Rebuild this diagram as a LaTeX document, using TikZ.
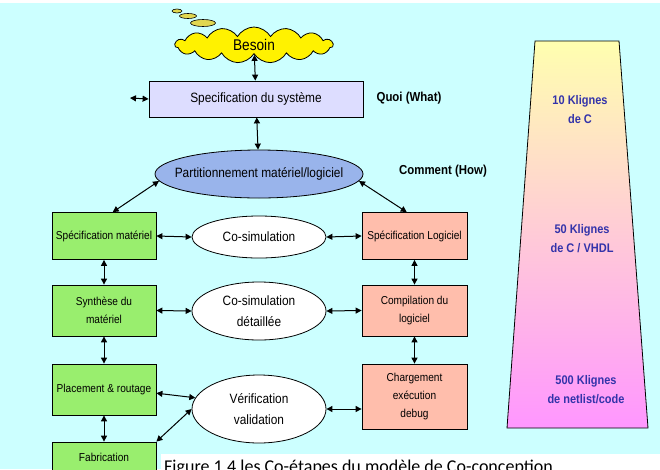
\documentclass[tikz,border=0pt]{standalone}
\usepackage{fontspec}
\usepackage{xcolor}
\usepackage{tikz}
\usetikzlibrary{positioning, arrows.meta, shapes.geometric, shapes.symbols, calc}
\newfontfamily\narrow{Liberation Sans}[FakeStretch=0.88]
\newfontfamily\capfont{Carlito}
\definecolor{bgcyan}{RGB}{204,255,255}
\definecolor{syslav}{RGB}{221,221,255}
\definecolor{partblue}{RGB}{153,180,235}
\definecolor{hwgreen}{RGB}{153,238,110}
\definecolor{swpink}{RGB}{255,190,172}
\definecolor{traptop}{RGB}{255,255,175}
\definecolor{trapbot}{RGB}{255,150,255}
\definecolor{kltext}{RGB}{51,51,170}
\definecolor{puffcol}{RGB}{225,215,80}
\newcommand{\zw}[1]{\makebox[0pt]{#1}}

\begin{document}
\begin{tikzpicture}[
    x=1pt, y=-1pt,
    every node/.style={font=\narrow},
    hwbox/.style={draw, line width=0.8pt, fill=hwgreen, minimum width=104pt, align=center,
        font=\narrow\fontsize{11.5}{18}\selectfont},
    swbox/.style={hwbox, fill=swpink, minimum width=105pt},
    simell/.style={draw, line width=0.8pt, ellipse, fill=white, inner sep=0pt, minimum width=134pt,
        align=center, font=\narrow\fontsize{13.5}{21}\selectfont},
    arr/.style={{Triangle[length=6pt,width=6pt]}-{Triangle[length=6pt,width=6pt]}, line width=1pt},
    note/.style={font=\narrow\bfseries\fontsize{13}{15}\selectfont},
    kl/.style={align=center, text=kltext, font=\narrow\bfseries\fontsize{12.5}{19}\selectfont}
]
\useasboundingbox (0,0) rectangle (660,469);
\clip (0,0) rectangle (660,469);
\fill[white] (0,0) rectangle (660,469);
\fill[bgcyan] (0,3) rectangle (660,469);

% lines of code per level
\shade[top color=traptop, bottom color=trapbot] (535,41) -- (619,41) -- (648,428) -- (507,428) -- cycle;
\draw[line width=0.8pt] (535,41) -- (619,41) -- (648,428) -- (507,428) -- cycle;
\node[kl] (kl10) at (580,110) {10 Klignes\\de C};
\node[kl] (kl50) at (582,238.5) {50 Klignes\\de C / VHDL};
\node[kl] (kl500) at (586,390) {500 Klignes\\de netlist/code};

% need
\fill[puffcol, draw=black, line width=0.6pt] (177,11) ellipse [x radius=5, y radius=2];
\fill[puffcol, draw=black, line width=0.6pt] (188,16) ellipse [x radius=8.5, y radius=2.5];
\fill[puffcol, draw=black, line width=0.6pt] (203,23) ellipse [x radius=12.5, y radius=3.5];
\node[cloud, cloud puffs=15, cloud puff arc=120, aspect=4.3, draw, line width=0.8pt, fill=yellow,
    minimum width=158pt, minimum height=36pt, inner sep=0pt,
    font=\narrow\fontsize{15.5}{17}\selectfont] (besoin) at (254,45) {Besoin};

\node[draw, line width=0.8pt, fill=syslav, minimum width=214pt, minimum height=36pt,
    font=\narrow\fontsize{13.5}{15}\selectfont] (sys) at (256,99) {Specification du système};
\node[note] (quoi) at (409,98) {Quoi (What)};
\coordinate (lft) at (130,98);

\node[draw, line width=0.8pt, ellipse, fill=partblue, inner sep=0pt, minimum width=208pt, minimum height=48pt,
    font=\narrow\fontsize{13.5}{15}\selectfont] (part) at (259,174) {\zw{Partitionnement matériel/logiciel}};
\node[note] (comment) at (443,171) {Comment (How)};

% hardware side
\node[hwbox, minimum height=47pt] (smat) at (104,236) {Spécification matériel};
\node[hwbox, minimum height=51pt] (synth) at (104,310.5) {Synthèse du\\matériel};
\node[hwbox, minimum height=51pt] (place) at (104,389.5) {Placement \& routage};
\node[hwbox, minimum height=30pt] (fab) at (104,457) {Fabrication};

% co-simulation
\node[simell, minimum height=42pt] (cosim) at (259,237) {\zw{Co-simulation}};
\node[simell, minimum height=58pt] (cosimd) at (259,311) {\zw{Co-simulation}\\\zw{détaillée}};
\node[simell, minimum height=68pt] (verif) at (259,409) {\zw{Vérification}\\\zw{validation}};

% software side
\node[swbox, minimum height=47pt] (slog) at (414.5,236) {Spécification Logiciel};
\node[swbox, minimum height=51pt] (comp) at (414.5,310.5) {Compilation du\\logiciel};
\node[swbox, minimum height=65pt] (charg) at (414.5,396.5) {Chargement\\exécution\\debug};

\draw[arr] (besoin) -- (sys);
\draw[arr] (lft) -- (sys.west);
\draw[arr] (sys) -- (part);
\draw[arr] (part.184) -- (smat.70);
\draw[arr] (part.-4) -- (slog.108);
\draw[arr] (smat.east) -- (cosim.west);
\draw[arr] (cosim.east) -- (slog.west);
\draw[arr] (smat.south) -- (synth.north);
\draw[arr] (synth.south) -- (place.north);
\draw[arr] (place.south) -- (fab.north);
\draw[arr] (slog.south) -- (comp.north);
\draw[arr] (comp.south) -- (charg.north);
\draw[arr] (synth.east) -- (cosimd.west);
\draw[arr] (cosimd.east) -- (comp.west);
\draw[arr] (place.-4) -- (verif.170);
\draw[arr] (fab.north east) -- (verif.west);
\draw[arr] (verif.east) -- (verif.east -| charg.west);

% caption
\fill[white] (161,454) rectangle (660,469);
\node[anchor=base west, inner sep=0pt, font=\capfont\fontsize{18}{20}\selectfont] (cap) at (164,472)
    {Figure 1.4 les Co-étapes du modèle de Co-conception};
\end{tikzpicture}
\end{document}
